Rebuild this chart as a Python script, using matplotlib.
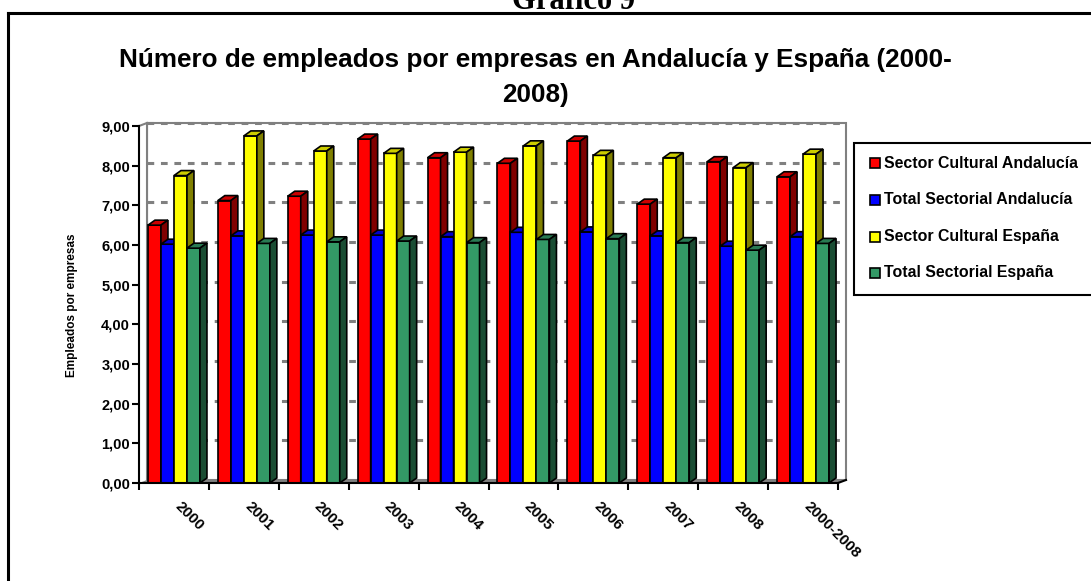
import matplotlib
matplotlib.use('Agg')
import matplotlib.pyplot as plt
from matplotlib.patches import Polygon, Rectangle
from matplotlib.lines import Line2D
from matplotlib.transforms import ScaledTranslation

# ---------------- data ----------------
categories = ['2000', '2001', '2002', '2003', '2004', '2005', '2006', '2007', '2008', '2000-2008']
series_names = ['Sector Cultural Andalucía', 'Total Sectorial Andalucía',
                'Sector Cultural España', 'Total Sectorial España']
sector_cultural_andalucia = [6.50, 7.12, 7.23, 8.67, 8.20, 8.06, 8.62, 7.03, 8.10, 7.72]
total_sectorial_andalucia = [6.02, 6.23, 6.25, 6.25, 6.21, 6.32, 6.33, 6.23, 5.97, 6.21]
sector_cultural_espana = [7.75, 8.75, 8.37, 8.31, 8.34, 8.50, 8.26, 8.20, 7.95, 8.29]
total_sectorial_espana = [5.92, 6.04, 6.08, 6.10, 6.06, 6.14, 6.16, 6.06, 5.87, 6.04]
y_ticks = [0, 1, 2, 3, 4, 5, 6, 7, 8, 9]
y_tick_labels = ['0,00', '1,00', '2,00', '3,00', '4,00', '5,00', '6,00', '7,00', '8,00', '9,00']
title_lines = ['Número de empleados por empresas en Andalucía y España (2000-', '2008)']
y_label = 'Empleados por empresas'
header = 'Gráfico 9'

series = [sector_cultural_andalucia, total_sectorial_andalucia,
          sector_cultural_espana, total_sectorial_espana]
front_colors = ['#FF0000', '#0000FF', '#FFFF00', '#339966']
top_colors = ['#CC0000', '#0000CC', '#CCCC00', '#297A52']
side_colors = ['#800000', '#000080', '#808000', '#1A4D33']

# ---------------- figure ----------------
W, H = 1091, 581
fig = plt.figure(figsize=(W / 100, H / 100), dpi=100)
plt.rcParams['font.family'] = ['Liberation Sans', 'DejaVu Sans']

def fx(px):
    return px / W

def fy(py):
    return (H - py) / H

# front plot rectangle (pixels)
L, R, T, B = 139, 838, 126, 483
ax = fig.add_axes([fx(L), fy(B), fx(R - L), (B - T) / H])
ax.set_xlim(0, len(categories))
ax.set_ylim(0, 9)
ax.patch.set_visible(False)

ppx = (R - L) / len(categories)   # pixels per x unit
ppy = (B - T) / 9.0               # pixels per y unit
wdx, wdy = 8 / ppx, 3 / ppy       # wall depth
bdx, bdy = 7 / ppx, 5 / ppy       # bar depth
n = len(categories)
gray = '#808080'

# back wall
ax.add_patch(Rectangle((wdx, wdy), n, 9, facecolor='white', edgecolor=gray,
                       lw=1.5, zorder=0.5, clip_on=False))
# gridlines on back wall
for v in y_ticks[1:]:
    ax.plot([wdx, n + wdx], [v + wdy, v + wdy], color=gray, lw=2.2,
            ls=(0, (2.2, 2.2)), zorder=0.6, clip_on=False)
# left side wall
ax.add_patch(Polygon([(0, 0), (wdx, wdy), (wdx, 9 + wdy), (0, 9)], closed=True,
                     facecolor='white', edgecolor='none', zorder=0.7, clip_on=False))
ax.plot([wdx, wdx], [wdy, 9 + wdy], color=gray, lw=1.5, zorder=0.8, clip_on=False)
ax.plot([0, wdx], [9, 9 + wdy], color=gray, lw=1.5, zorder=0.8, clip_on=False)
# floor
ax.add_patch(Polygon([(0, 0), (n, 0), (n + wdx, wdy), (wdx, wdy)], closed=True,
                     facecolor=gray, edgecolor='none', zorder=0.9, clip_on=False))
ax.plot([n, n + wdx], [0, wdy], color='black', lw=1.5, zorder=3, clip_on=False)

# bars
bw = 13 / ppx
for j, vals in enumerate(series):
    xs = [i + 0.5 - 2 * bw + j * bw for i in range(n)]
    ax.bar(xs, vals, width=bw, align='edge', color=front_colors[j],
           edgecolor='black', lw=1.2, zorder=2 + j * 0.3, clip_on=False)
    for x0, h in zip(xs, vals):
        top = Polygon([(x0, h), (x0 + bw, h), (x0 + bw + bdx, h + bdy), (x0 + bdx, h + bdy)],
                      closed=True, facecolor=top_colors[j], edgecolor='black', lw=1.2,
                      zorder=2.1 + j * 0.3, clip_on=False)
        side = Polygon([(x0 + bw, 0), (x0 + bw + bdx, bdy), (x0 + bw + bdx, h + bdy), (x0 + bw, h)],
                       closed=True, facecolor=side_colors[j], edgecolor='black', lw=1.2,
                       zorder=2.2 + j * 0.3, clip_on=False)
        ax.add_patch(top)
        ax.add_patch(side)

# axes spines / ticks
for s in ['top', 'right']:
    ax.spines[s].set_visible(False)
for s in ['left', 'bottom']:
    ax.spines[s].set_linewidth(1.5)
    ax.spines[s].set_color('black')
    ax.spines[s].set_zorder(3)

ax.set_yticks(y_ticks, y_tick_labels)
ax.tick_params(axis='y', length=5, width=1.5, pad=1.5, direction='out',
               labelsize=10.5)
for lab in ax.get_yticklabels():
    lab.set_fontweight('bold')

centers = [i + 0.5 for i in range(n)]
ax.set_xticks(centers, categories)
ax.set_xticks(list(range(n + 1)), minor=True)
ax.tick_params(axis='x', which='major', length=0, pad=12, labelsize=11)
ax.tick_params(axis='x', which='minor', length=5, width=1.5, direction='out')
shift = ScaledTranslation(8 / 100, 0, fig.dpi_scale_trans)
for lab in ax.get_xticklabels():
    lab.set_fontweight('bold')
    lab.set_rotation(-45)
    lab.set_ha('left')
    lab.set_va('top')
    lab.set_rotation_mode('anchor')
    lab.set_transform(lab.get_transform() + shift)

# y label
fig.text(fx(72), fy(305), y_label, rotation=90, ha='center', va='center',
         fontsize=8.5, fontweight='bold')

# title
fig.text(fx(535), fy(60), title_lines[0], ha='center', va='center',
         fontsize=18.8, fontweight='bold')
fig.text(fx(535), fy(95), title_lines[1], ha='center', va='center',
         fontsize=18.8, fontweight='bold')

# header (partly cut off at the top, as in the source)
fig.text(fx(574), fy(9), header, ha='center', va='baseline',
         fontsize=22, fontweight='bold', family=['Liberation Serif', 'DejaVu Serif'])

# outer frame
frame_kw = dict(color='black', lw=2.2, transform=fig.transFigure)
fig.add_artist(Line2D([fx(8), fx(1091)], [fy(13), fy(13)], **frame_kw))
fig.add_artist(Line2D([fx(8), fx(8)], [fy(13), fy(581)], **frame_kw))

# legend (manual, Excel-like)
fig.add_artist(Rectangle((fx(854), fy(295)), fx(1095) - fx(854), fy(143) - fy(295),
                         transform=fig.transFigure, facecolor='white',
                         edgecolor='black', lw=1.5))
row_y = [163, 200, 237, 273]
for name, col, yy in zip(series_names, front_colors, row_y):
    fig.add_artist(Rectangle((fx(870), fy(yy + 5)), 10 / W, 10 / H,
                             transform=fig.transFigure, facecolor=col,
                             edgecolor='black', lw=1.2))
    fig.text(fx(884), fy(yy), name, ha='left', va='center', fontsize=11.4,
             fontweight='bold')

fig.savefig('out.png', dpi=100)
